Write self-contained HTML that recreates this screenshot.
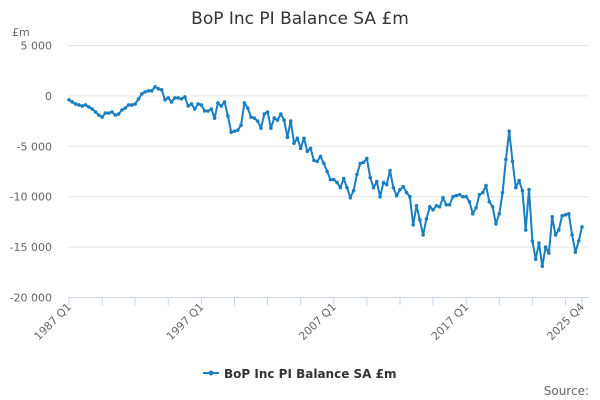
<!DOCTYPE html>
<html><head><meta charset="utf-8">
<style>
html,body{margin:0;padding:0;background:#fff;}
svg{display:block;font-family:"DejaVu Sans","Liberation Sans",sans-serif;}
</style></head>
<body>
<svg id="chart" width="600" height="400" viewBox="0 0 600 400">
<text x="300" y="24" text-anchor="middle" font-size="17" fill="#333">BoP Inc PI Balance SA £m</text>
<text x="12" y="36" font-size="11" fill="#666">£m</text>
<g id="grid"></g>
<g id="yticks"></g>
<g id="xaxis"></g>
<g id="series"></g>
<g>
<line x1="203" y1="373" x2="219" y2="373" stroke="#1a7fc1" stroke-width="2"/>
<circle cx="211" cy="373" r="2.5" fill="#1a7fc1"/>
<text x="224" y="378" font-size="12" font-weight="bold" fill="#333">BoP Inc PI Balance SA £m</text>
</g>
<text x="589" y="395" text-anchor="end" font-size="12" fill="#666">Source:</text>
</svg>
<script>
const values = [-400,-600,-800,-900,-1000,-900,-1100,-1300,-1600,-1900,-2100,-1700,-1700,-1600,-1900,-1800,
-1400,-1200,-900,-900,-800,-300,200,400,500,500,900,700,600,-400,-200,-600,-200,-200,-300,-100,
-1000,-800,-1300,-800,-900,-1500,-1500,-1300,-2200,-700,-1000,-600,-2000,-3600,-3500,-3400,-2900,-700,
-1200,-2100,-2200,-2500,-3200,-1800,-1600,-3200,-2200,-2400,-1800,-2400,-4100,-2500,-4700,-4200,-5200,
-4200,-5500,-5200,-6400,-6500,-6000,-6700,-7500,-8300,-8300,-8600,-9100,-8200,-9100,-10100,-9400,-7800,
-6700,-6600,-6200,-8100,-9100,-8500,-10000,-8600,-8800,-7400,-9100,-9900,-9300,-9000,-9600,-10000,
-12800,-10900,-12300,-13800,-12200,-11000,-11300,-10900,-11000,-10100,-10800,-10800,-10000,-9900,-9800,
-10000,-10000,-10500,-11700,-11100,-9800,-9600,-8900,-10500,-11000,-12700,-11700,-9600,-6300,-3500,
-6500,-9100,-8400,-9400,-13300,-9300,-14400,-16200,-14600,-16900,-15000,-15600,-12000,-13800,-13300,
-11900,-11800,-11700,-13800,-15500,-14400,-13000];
const yTicks = [5000,0,-5000,-10000,-15000,-20000];
const yTickLabels = ["5 000","0","-5 000","-10 000","-15 000","-20 000"];
const xLabels = ["1987 Q1","1997 Q1","2007 Q1","2017 Q1","2025 Q4"];
const xLabelIdx = [0,40,80,120,155];

const X0=69, X1=582, Y0=45.5, Y1=297.5, VMAX=5000, VMIN=-20000;
function xs(i){return X0+(X1-X0)*i/(values.length-1);}
function ys(v){return Y0+(VMAX-v)/(VMAX-VMIN)*(Y1-Y0);}
const NS="http://www.w3.org/2000/svg";
function mk(tag,attrs,parent){const e=document.createElementNS(NS,tag);for(const k in attrs)e.setAttribute(k,attrs[k]);parent.appendChild(e);return e;}
const grid=document.getElementById('grid'),yt=document.getElementById('yticks'),xa=document.getElementById('xaxis'),se=document.getElementById('series');
yTicks.forEach((v,k)=>{
  if(v!==VMIN){const g=mk('line',{x1:68,x2:589,y1:ys(v),y2:ys(v),stroke:'#e6e6e6','stroke-width':1},grid);
  
  }
  const t=mk('text',{x:52,y:ys(v)+4,'text-anchor':'end','font-size':11,fill:'#666'},yt);
  t.textContent=yTickLabels[k];
  
  
});
mk('line',{x1:68,x2:589,y1:Y1,y2:Y1,stroke:'#ccd6eb','stroke-width':1},xa);
for(let i=0;i<values.length;i+=10){mk('line',{x1:xs(i),x2:xs(i),y1:Y1,y2:Y1+8,stroke:'#ccd6eb','stroke-width':1},xa);}
mk('line',{x1:xs(155),x2:xs(155),y1:Y1,y2:Y1+8,stroke:'#ccd6eb','stroke-width':1},xa);
xLabels.forEach((l,k)=>{
  const x=xs(xLabelIdx[k])+3,y=Y1+10;
  const t=mk('text',{x:x,y:y,'text-anchor':'end','font-size':11,fill:'#666',transform:`rotate(-45 ${x} ${y})`},xa);
  t.textContent=l;
  
  
});
const path=values.map((v,i)=>(i?'L':'M')+xs(i).toFixed(1)+' '+ys(v).toFixed(1)).join(' ');
const p=mk('path',{d:path,fill:'none',stroke:'#1a7fc1','stroke-width':2,'stroke-linejoin':'round'},se);


values.forEach((v,i)=>{
  const c=mk('circle',{cx:xs(i),cy:ys(v),r:1.8,fill:'#1a7fc1'},se);
  
  
});
</script>
</body></html>
